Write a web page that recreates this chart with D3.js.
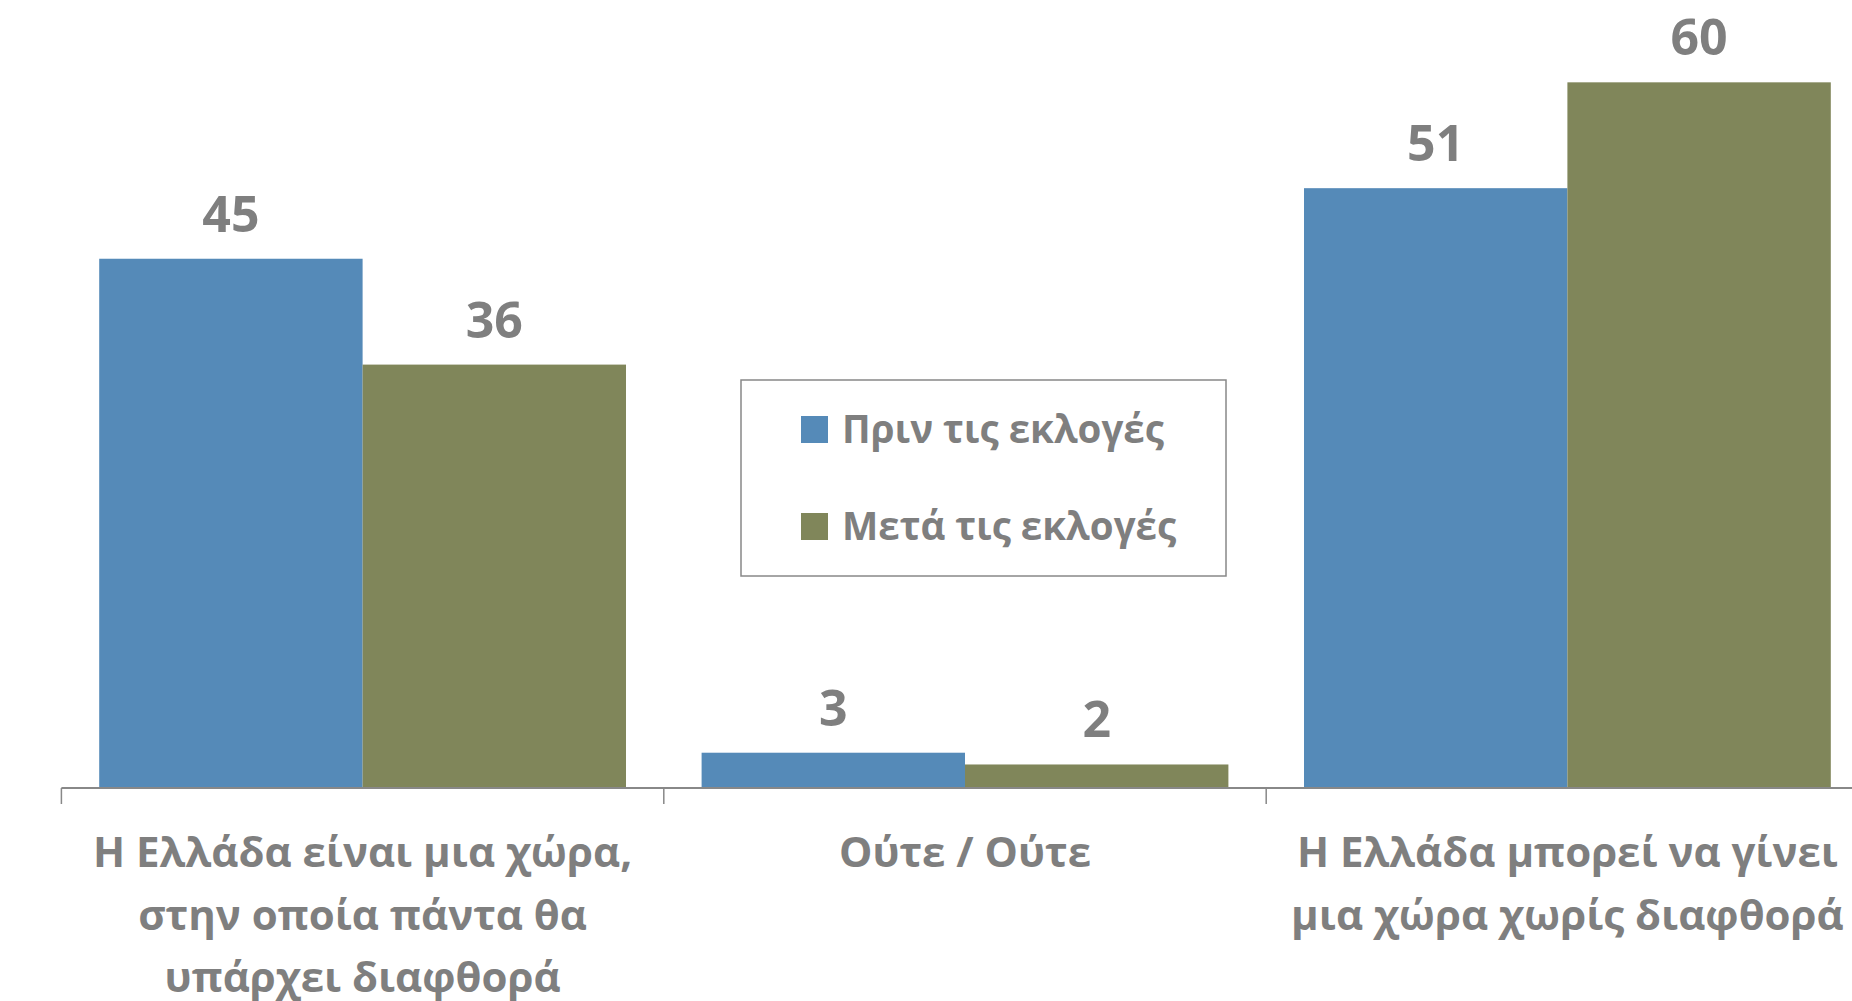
<!DOCTYPE html>
<html>
<head>
<meta charset="utf-8">
<script src="https://cdn.jsdelivr.net/npm/d3@7"></script>
<style>
	html, body { margin: 0; padding: 0; background: #fff; }
	svg { display: block; font-family: 'Open Sans', 'Noto Sans', sans-serif; }
</style>
</head>
<body>
<div id="chart"></div>
<script>
// data
const categories = ['corrupt', 'neither', 'clean'];
const categoryLabels = [
	['Η Ελλάδα είναι μια χώρα,', 'στην οποία πάντα θα', 'υπάρχει διαφθορά'],
	['Ούτε / Ούτε'],
	['Η Ελλάδα μπορεί να γίνει', 'μια χώρα χωρίς διαφθορά']
];
const seriesNames = ['Πριν τις εκλογές', 'Μετά τις εκλογές'];
const beforeValues = [45, 3, 51];
const afterValues = [36, 2, 60];
const seriesColors = ['#558ab8', '#80865a'];

(() => {
	const width = 1852;
	const height = 1001;
	const textColor = '#7f7f7f';
	const axisColor = '#888888';

	const svg = d3.select('#chart').append('svg')
		.attr('width', width)
		.attr('height', height);

	// category step is ~602px, the chart is cut off on the right
	const x0 = d3.scaleBand()
		.domain(categories)
		.range([61.4, 61.4 + 3 * 602.4])
		.padding(0);
	const x1 = d3.scaleBand()
		.domain(seriesNames)
		.range([0, x0.bandwidth()])
		.paddingInner(0)
		.paddingOuter(0.1435);
	const y = d3.scaleLinear()
		.domain([0, 67])
		.range([788, 0]);
	const color = d3.scaleOrdinal()
		.domain(seriesNames)
		.range(seriesColors);

	const rows = categories.map((c, i) => ({
		cat: c,
		values: [
			{ name: seriesNames[0], value: beforeValues[i] },
			{ name: seriesNames[1], value: afterValues[i] }
		]
	}));

	const groups = svg.append('g').selectAll('g')
		.data(rows)
		.join('g')
			.attr('transform', d => `translate(${x0(d.cat)}, 0)`);

	groups.selectAll('rect')
		.data(d => d.values)
		.join('rect')
			.attr('x', d => x1(d.name))
			.attr('y', d => y(d.value))
			.attr('width', x1.bandwidth())
			.attr('height', d => y(0) - y(d.value))
			.style('fill', d => color(d.name));

	groups.selectAll('text')
		.data(d => d.values)
		.join('text')
			.attr('x', d => x1(d.name) + x1.bandwidth() / 2)
			.attr('y', d => y(d.value) - 27)
			.style('text-anchor', 'middle')
			.style('font-size', '50px')
			.style('font-weight', 700)
			.style('fill', textColor)
			.text(d => d.value);

	// axis line with ticks between categories
	const axisG = svg.append('g');
	const [r0, r1] = x0.range();
	axisG.append('line')
		.attr('x1', r0)
		.attr('x2', r1)
		.attr('y1', y(0))
		.attr('y2', y(0))
		.style('stroke', axisColor)
		.style('stroke-width', 2);
	axisG.selectAll('.tick')
		.data(categories.map(c => x0(c)).concat([r1]))
		.join('line')
			.attr('class', 'tick')
			.attr('x1', d => d)
			.attr('x2', d => d)
			.attr('y1', y(0))
			.attr('y2', y(0) + 16)
			.style('stroke', axisColor)
			.style('stroke-width', 1.5);

	// category labels
	const labelG = svg.append('g');
	labelG.selectAll('text')
		.data(categories)
		.join('text')
			.attr('x', d => x0(d) + x0.bandwidth() / 2)
			.attr('y', 867)
			.style('text-anchor', 'middle')
			.style('font-size', '42px')
			.style('font-weight', 700)
			.style('fill', textColor)
			.each(function(d, i) {
				d3.select(this).selectAll('tspan')
					.data(categoryLabels[i])
					.join('tspan')
						.attr('x', x0(d) + x0.bandwidth() / 2)
						.attr('dy', (t, j) => j === 0 ? 0 : 62.6)
						.text(t => t);
			});

	// legend
	const legend = svg.append('g')
		.attr('transform', 'translate(741, 380)');
	legend.append('rect')
		.attr('width', 485)
		.attr('height', 196)
		.style('fill', '#fff')
		.style('stroke', axisColor)
		.style('stroke-width', 1.5);
	const items = legend.selectAll('.item')
		.data(seriesNames)
		.join('g')
			.attr('class', 'item')
			.attr('transform', (d, i) => `translate(60, ${36 + i * 97})`);
	items.append('rect')
		.attr('width', 27)
		.attr('height', 27)
		.style('fill', d => color(d));
	items.append('text')
		.attr('x', 41)
		.attr('y', 27)
		.style('font-size', '38.5px')
		.style('font-weight', 700)
		.style('fill', textColor)
		.text(d => d);
})();
</script>
</body>
</html>
